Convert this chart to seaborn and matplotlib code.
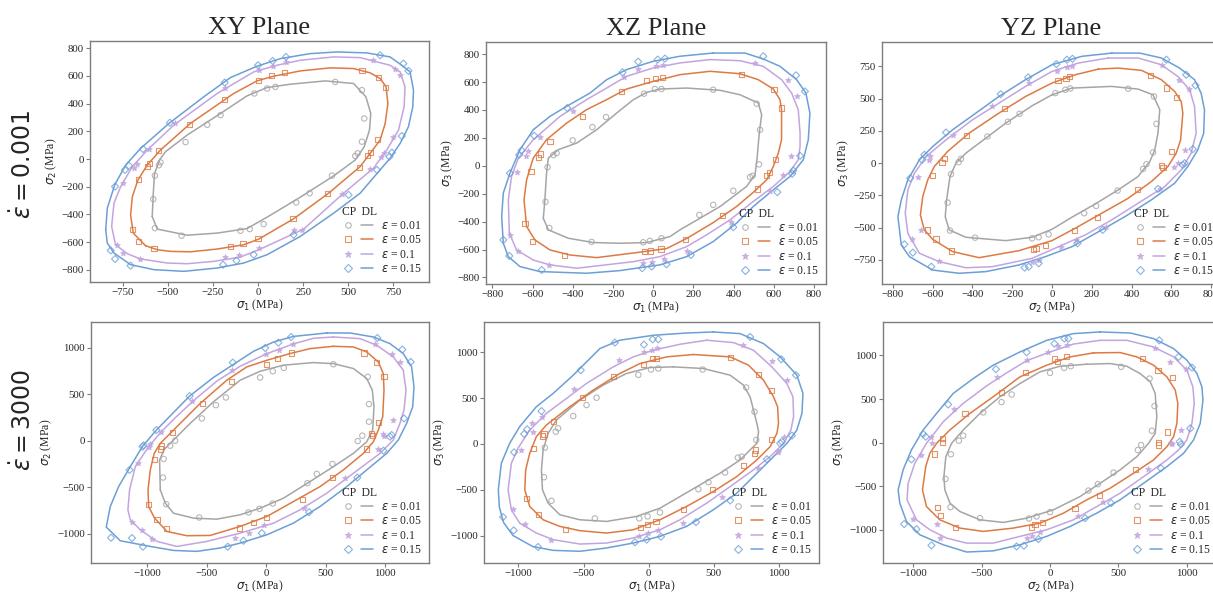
import numpy as np
import pandas as pd
import matplotlib
matplotlib.use("Agg")
import matplotlib.pyplot as plt
import seaborn as sns
from matplotlib.lines import Line2D
from matplotlib.legend_handler import HandlerTuple
from matplotlib.ticker import MultipleLocator

# ---------------- data (MPa) ----------------
STRAIN_LABELS = [r"$\varepsilon$ = 0.01", r"$\varepsilon$ = 0.05", r"$\varepsilon$ = 0.1", r"$\varepsilon$ = 0.15"]
COL_TITLES = ["XY Plane", "XZ Plane", "YZ Plane"]
ROW_LABELS = [r"$\dot{\varepsilon} = 0.001$", r"$\dot{\varepsilon} = 3000$"]
X_LABELS = [r"$\sigma_1$ (MPa)", r"$\sigma_1$ (MPa)", r"$\sigma_2$ (MPa)"]
Y_LABELS = [r"$\sigma_2$ (MPa)", r"$\sigma_3$ (MPa)", r"$\sigma_3$ (MPa)"]

# ---- XY plane, strain rate 0.001 ----
XY_LO_CP_e001 = [(-587,-415),(-581,-247),(-574,-103),(-544,-2),(-513,53),(-393,173),(-208,329),(-61,456),(50,516),(179,540),(373,564),(530,545),(598,449),(625,329),(618,209),(589,89),(539,-7),(419,-122),(234,-276),(50,-420),(-61,-502),(-227,-535),(-393,-550),(-559,-506)]
XY_LO_DL_e001 = [(428,557),(576,497),(589,293),(576,125),(552,41),(539,22),(410,-120),(286,-247),(212,-314),(31,-470),(-46,-506),(-98,-518),(-424,-554),(-572,-499),(-581,-290),(-572,-120),(-541,-24),(-550,-45),(-402,122),(-282,247),(-208,317),(-20,473),(50,509),(96,521)]
XY_LO_CP_e005 = [(-624,-626),(-559,-655),(-485,-667),(-375,-670),(-227,-650),(-79,-619),(4,-578),(197,-432),(391,-247),(566,-55),(622,41),(677,137),(705,257),(720,401),(710,521),(677,581),(622,622),(530,653),(400,658),(234,636),(87,598),(-6,564),(-135,473),(-375,257),(-541,65),(-614,-43),(-666,-151),(-697,-271),(-707,-403),(-692,-535)]
XY_LO_DL_e005 = [(576,641),(668,588),(705,514),(664,142),(625,48),(607,24),(561,-62),(387,-250),(194,-432),(0,-574),(-83,-610),(-153,-634),(-577,-646),(-661,-598),(-697,-511),(-661,-146),(-614,-55),(-600,-31),(-550,60),(-380,250),(-186,432),(4,569),(74,602),(148,624)]
XY_LO_CP_e010 = [(-651,-722),(-504,-751),(-393,-756),(-245,-739),(-98,-708),(13,-650),(253,-506),(474,-247),(640,-67),(714,65),(779,209),(810,377),(815,521),(788,629),(732,677),(566,732),(419,737),(234,713),(105,677),(-24,629),(-227,473),(-467,245),(-614,65),(-697,-55),(-762,-199),(-799,-319),(-812,-487),(-790,-619),(-725,-684)]
XY_LO_DL_e010 = [(640,713),(760,653),(788,605),(751,161),(696,46),(683,17),(622,-74),(463,-252),(244,-511),(197,-511),(4,-643),(-107,-691),(-181,-710),(-655,-722),(-747,-679),(-780,-624),(-747,-170),(-688,-67),(-670,-36),(-607,72),(-458,257),(-181,516),(4,641),(83,672),(157,701)]
XY_LO_CP_e015 = [(-845,-511),(-836,-355),(-795,-187),(-734,-43),(-651,77),(-494,257),(-301,449),(-153,588),(-6,670),(124,725),(290,761),(437,773),(603,766),(732,737),(797,677),(843,629),(862,497),(858,377),(834,233),(788,113),(732,5),(566,-247),(419,-391),(234,-559),(50,-691),(-79,-751),(-227,-787),(-411,-811),(-577,-799),(-707,-763),(-799,-679),(-836,-607)]
XY_LO_DL_e015 = [(677,749),(806,689),(834,636),(797,166),(742,46),(729,17),(659,-79),(502,-259),(197,-547),(-24,-691),(-120,-734),(-194,-763),(-707,-770),(-793,-722),(-817,-660),(-793,-199),(-738,-79),(-716,-48),(-638,72),(-489,262),(-185,552),(0,677),(81,708),(155,737)]

# ---- XZ plane, strain rate 0.001 ----
XZ_LO_CP_e001 = [(-547,-376),(-522,-459),(-423,-519),(-298,-550),(-166,-555),(-33,-550),(83,-507),(133,-459),(332,-292),(464,-148),(506,-65),(517,67),(527,234),(539,366),(522,450),(431,509),(332,541),(166,557),(33,550),(-33,526),(-99,474),(-182,378),(-282,258),(-381,163),(-473,115),(-522,55),(-531,-53),(-539,-244)]
XZ_LO_DL_e001 = [(514,445),(531,258),(526,10),(494,-72),(481,-81),(398,-179),(298,-280),(229,-352),(41,-519),(-17,-538),(-50,-548),(-307,-545),(-517,-445),(-536,-258),(-526,-10),(-497,77),(-481,91),(-401,182),(-303,277),(-235,349),(-46,517),(8,550),(41,550),(298,545)]
XZ_LO_CP_e005 = [(431,660),(522,617),(597,550),(630,474),(638,402),(638,187),(622,91),(597,-5),(564,-100),(497,-191),(414,-292),(298,-407),(166,-521),(66,-593),(-83,-622),(-282,-658),(-415,-639),(-514,-603),(-589,-531),(-630,-435),(-643,-244),(-630,-100),(-597,55),(-531,187),(-431,306),(-332,402),(-232,474),(-133,550),(0,605),(133,653),(282,677)]
XZ_LO_DL_e005 = [(439,653),(600,545),(638,414),(608,43),(577,-48),(564,-72),(517,-167),(345,-356),(162,-526),(38,-596),(-12,-610),(-45,-615),(-443,-643),(-602,-543),(-638,-411),(-608,-41),(-559,84),(-572,62),(-514,175),(-353,352),(-159,533),(-33,610),(12,627),(45,634)]
XZ_LO_CP_e010 = [(282,761),(431,753),(547,713),(638,617),(688,521),(721,402),(730,234),(730,139),(721,43),(680,-41),(597,-148),(497,-256),(381,-388),(265,-495),(166,-579),(33,-651),(-99,-687),(-381,-734),(-514,-710),(-597,-675),(-680,-603),(-716,-483),(-721,-244),(-705,-77),(-671,55),(-597,187),(-464,354),(-332,474),(-232,557),(-133,641),(0,701),(133,737)]
XZ_LO_DL_e010 = [(506,737),(668,617),(713,498),(685,67),(647,-65),(580,-184),(385,-404),(166,-608),(55,-665),(-5,-687),(-53,-694),(-517,-710),(-671,-608),(-713,-495),(-676,-48),(-633,67),(-622,103),(-564,203),(-401,395),(-146,634),(-75,694),(13,713),(50,720)]
XZ_LO_CP_e015 = [(298,808),(456,808),(547,765),(630,713),(713,617),(759,521),(779,378),(771,187),(746,43),(680,-77),(597,-172),(497,-292),(414,-411),(298,-543),(166,-651),(33,-710),(-166,-751),(-332,-770),(-564,-758),(-663,-722),(-721,-651),(-746,-555),(-754,-364),(-746,-196),(-713,-53),(-663,115),(-597,258),(-514,354),(-431,426),(-315,521),(-232,617),(-133,689),(0,749),(133,785)]
XZ_LO_DL_e015 = [(547,785),(710,648),(754,533),(730,72),(696,-34),(691,-57),(617,-189),(398,-440),(187,-639),(66,-706),(-8,-722),(-55,-734),(-555,-746),(-716,-646),(-746,-531),(-713,-53),(-667,79),(-655,110),(-592,215),(-428,414),(-153,670),(-75,746),(22,761),(58,768)]

# ---- YZ plane, strain rate 0.001 ----
YZ_LO_CP_e001 = [(0,530),(100,582),(300,595),(433,574),(508,530),(542,414),(533,233),(517,103),(492,13),(433,-103),(333,-207),(217,-316),(100,-419),(0,-512),(-100,-574),(-233,-600),(-433,-574),(-517,-517),(-537,-414),(-530,-284),(-513,-103),(-483,0),(-433,78),(-333,194),(-233,310),(-100,445)]
YZ_LO_DL_e001 = [(383,577),(513,517),(525,305),(508,83),(475,-8),(458,-44),(330,-212),(222,-331),(162,-388),(-17,-551),(-67,-574),(-100,-582),(-387,-577),(-513,-522),(-525,-305),(-508,-85),(-470,8),(-458,34),(-325,207),(-222,321),(-163,383),(17,543),(67,569),(92,579)]
YZ_LO_CP_e005 = [(233,729),(333,737),(450,719),(550,647),(617,556),(650,478),(658,388),(647,181),(625,78),(583,-26),(500,-142),(383,-272),(250,-388),(117,-504),(0,-600),(-167,-678),(-367,-732),(-500,-685),(-600,-590),(-642,-517),(-662,-401),(-650,-259),(-625,-129),(-592,-26),(-525,91),(-417,233),(-267,388),(-133,517),(0,621),(117,685)]
YZ_LO_DL_e005 = [(497,678),(575,582),(625,512),(600,91),(558,-34),(550,-16),(430,-202),(230,-419),(112,-522),(-33,-639),(-80,-659),(-95,-667),(-505,-680),(-583,-587),(-628,-517),(-600,-96),(-553,8),(-542,39),(-430,212),(-237,424),(30,639),(70,659),(87,672)]
YZ_LO_CP_e010 = [(283,815),(433,815),(550,763),(633,672),(692,569),(717,440),(725,233),(700,78),(650,-52),(567,-181),(433,-310),(300,-440),(167,-556),(33,-647),(-100,-737),(-300,-802),(-433,-810),(-567,-763),(-667,-698),(-725,-543),(-738,-388),(-725,-207),(-692,-78),(-633,52),(-533,181),(-400,336),(-267,465),(-133,595),(0,711),(133,776)]
YZ_LO_DL_e010 = [(555,758),(638,647),(688,574),(667,103),(613,-26),(633,0),(545,-202),(270,-497),(122,-595),(47,-652),(-67,-750),(-100,-763),(-567,-758),(-703,-590),(-658,-517),(-675,-109),(-617,21),(-612,52),(-500,222),(-300,440),(-117,621),(25,716),(75,742),(103,755)]
YZ_LO_CP_e015 = [(300,853),(442,853),(550,815),(642,737),(717,647),(750,543),(767,414),(763,233),(733,103),(683,-26),(617,-155),(500,-284),(367,-414),(250,-517),(100,-647),(-33,-724),(-167,-789),(-333,-840),(-467,-853),(-600,-828),(-717,-724),(-758,-634),(-775,-414),(-758,-284),(-725,-129),(-667,26),(-600,129),(-500,259),(-383,388),(-267,517),(-133,647),(0,763),(150,828)]
YZ_LO_DL_e015 = [(575,802),(675,685),(722,603),(708,109),(667,0),(658,-13),(533,-199),(255,-517),(128,-621),(-67,-776),(-117,-802),(-138,-809),(-607,-802),(-700,-693),(-742,-628),(-713,-116),(-653,26),(-642,65),(-533,238),(-258,535),(-120,665),(22,768),(75,802),(103,809)]

# ---- XY plane, strain rate 3000 ----
XY_HI_CP_e001 = [(-889,-529),(-895,-207),(-856,-93),(-778,7),(-638,186),(-442,418),(-218,650),(-50,746),(145,811),(397,839),(565,828),(733,775),(845,668),(892,543),(906,364),(895,114),(845,-11),(733,-136),(565,-279),(369,-439),(145,-618),(-50,-725),(-218,-796),(-414,-843),(-610,-832),(-778,-779),(-847,-671)]
XY_HI_DL_e001 = [(565,821),(853,686),(864,393),(864,204),(808,54),(769,-4),(557,-250),(425,-357),(347,-457),(56,-675),(-56,-732),(-148,-771),(-562,-825),(-839,-682),(-867,-396),(-861,-196),(-806,-54),(-764,0),(-540,239),(-422,382),(-338,464),(-50,679),(56,746),(148,782)]
XY_HI_CP_e005 = [(565,1014),(733,1007),(845,953),(942,846),(984,721),(990,543),(979,257),(942,114),(901,-11),(817,-136),(649,-314),(453,-493),(229,-654),(6,-814),(-218,-921),(-470,-1018),(-666,-1021),(-833,-975),(-937,-832),(-987,-707),(-992,-529),(-973,-314),(-940,-136),(-889,-29),(-778,114),(-554,400),(-330,650),(-162,793),(6,864),(201,936),(369,989)]
XY_HI_DL_e005 = [(822,943),(929,839),(990,686),(942,193),(895,54),(887,79),(845,-89),(557,-396),(308,-629),(6,-821),(-106,-875),(-224,-939),(-839,-943),(-917,-843),(-987,-689),(-940,-200),(-889,-89),(-881,-57),(-786,89),(-534,400),(-294,636),(6,821),(95,886),(215,943)]
XY_HI_CP_e010 = [(565,1114),(789,1096),(929,1025),(1068,900),(1152,757),(1175,543),(1158,329),(1124,186),(1068,7),(957,-136),(733,-350),(509,-564),(285,-743),(62,-886),(-218,-993),(-498,-1082),(-750,-1136),(-917,-1082),(-1057,-957),(-1141,-850),(-1161,-743),(-1147,-529),(-1099,-279),(-987,-64),(-881,96),(-760,250),(-610,430),(-414,640),(-218,800),(6,935),(229,1040),(397,1100)]
XY_HI_DL_e010 = [(915,1043),(1060,936),(1124,846),(1068,221),(990,54),(984,71),(937,-93),(663,-404),(322,-725),(-14,-911),(-148,-993),(-260,-1046),(-959,-1057),(-1043,-957),(-1127,-875),(-1074,-243),(-987,-64),(-973,-39),(-881,96),(-624,421),(-288,757),(-3,928),(112,979),(224,1043)]
XY_HI_CP_e015 = [(509,1157),(705,1157),(901,1114),(1040,1043),(1152,936),(1222,793),(1242,579),(1231,364),(1180,186),(1110,7),(1013,-136),(845,-314),(677,-493),(453,-707),(229,-886),(6,-1011),(-218,-1100),(-386,-1153),(-582,-1189),(-778,-1179),(-973,-1136),(-1225,-1075),(-1343,-928),(-1309,-707),(-1239,-493),(-1141,-279),(-1040,-64),(-922,114),(-780,300),(-643,479),(-442,680),(-274,820),(-106,960),(62,1060),(229,1120)]
XY_HI_DL_e015 = [(934,1103),(1144,979),(1214,846),(1158,239),(1054,61),(1040,43),(985,-107),(766,-396),(361,-768),(-36,-993),(-190,-1075),(-322,-1139),(-1035,-1139),(-1127,-1046),(-1303,-1043),(-1147,-314),(-1038,-64),(-1029,-50),(-922,114),(-643,479),(-280,839),(-8,996),(103,1053),(210,1114)]

# ---- XZ plane, strain rate 3000 ----
XZ_HI_CP_e001 = [(190,842),(420,824),(626,751),(728,643),(779,515),(805,370),(831,225),(844,134),(831,7),(779,-65),(703,-174),(549,-319),(395,-446),(241,-574),(87,-701),(-92,-791),(-323,-846),(-528,-828),(-682,-773),(-772,-646),(-815,-501),(-823,-283),(-810,-65),(-772,116),(-708,261),(-528,479),(-349,643),(-169,770),(10,835)]
XZ_HI_DL_e001 = [(415,813),(749,617),(813,352),(826,44),(715,-138),(685,-149),(587,-312),(459,-417),(382,-494),(87,-748),(-8,-791),(-72,-813),(-413,-813),(-746,-621),(-803,-363),(-797,-40),(-713,134),(-695,171),(-579,305),(-477,425),(-400,505),(-79,755),(18,813),(74,824)]
XZ_HI_CP_e005 = [(344,977),(626,951),(767,860),(882,697),(959,515),(990,407),(997,225),(985,116),(933,-29),(831,-174),(677,-356),(497,-519),(292,-682),(87,-828),(-118,-937),(-323,-973),(-528,-947),(-682,-900),(-810,-828),(-913,-682),(-951,-501),(-944,-283),(-913,-102),(-862,80),(-785,207),(-605,407),(-426,588),(-221,770),(-67,878),(138,951)]
XZ_HI_DL_e005 = [(631,940),(844,759),(946,588),(941,51),(813,-102),(823,-65),(728,-236),(492,-501),(267,-719),(56,-846),(-8,-882),(-62,-908),(-636,-937),(-844,-773),(-938,-592),(-887,-47),(-815,87),(-803,109),(-733,243),(-510,508),(-267,741),(-41,871),(28,937),(62,937)]
XZ_HI_CP_e010 = [(446,1133),(651,1107),(805,1024),(946,842),(1061,661),(1108,515),(1113,298),(1092,152),(1036,7),(933,-138),(805,-283),(626,-465),(446,-646),(241,-828),(87,-937),(-118,-1027),(-323,-1082),(-528,-1093),(-733,-1045),(-862,-973),(-990,-864),(-1054,-719),(-1079,-501),(-1054,-211),(-1003,-47),(-913,152),(-785,334),(-631,497),(-477,661),(-272,842),(-118,951),(36,1024),(241,1089)]
XZ_HI_DL_e010 = [(728,1078),(946,904),(1061,704),(1036,80),(997,-73),(992,-91),(836,-265),(562,-581),(267,-864),(74,-944),(-8,-973),(-72,-1002),(-751,-1053),(-951,-875),(-1041,-711),(-977,-65),(-887,134),(-892,232),(-820,290),(-574,595),(-226,922),(-36,1002),(23,1031),(67,1053)]
XZ_HI_CP_e015 = [(497,1223),(703,1205),(882,1096),(1010,951),(1138,751),(1185,552),(1177,334),(1138,152),(1062,7),(959,-138),(831,-319),(677,-537),(497,-719),(292,-900),(87,-1009),(-118,-1082),(-323,-1136),(-528,-1172),(-733,-1162),(-890,-1120),(-1041,-1000),(-1113,-860),(-1146,-690),(-1154,-501),(-1131,-211),(-1067,7),(-990,189),(-862,407),(-733,552),(-579,751),(-374,1042),(-221,1133),(36,1187),(292,1212)]
XZ_HI_DL_e015 = [(779,1169),(1018,926),(1131,751),(1100,91),(1023,25),(1010,7),(908,-167),(626,-617),(364,-853),(95,-1013),(-15,-1045),(-105,-1074),(-849,-1125),(-1036,-944),(-1118,-799),(-1033,-91),(-956,109),(-933,160),(-823,359),(-521,806),(-259,1107),(-36,1085),(31,1143),(74,1143)]

# ---- YZ plane, strain rate 3000 ----
YZ_HI_CP_e001 = [(269,899),(440,907),(562,876),(660,792),(734,697),(770,564),(782,297),(770,107),(721,-8),(636,-160),(513,-312),(367,-465),(220,-617),(24,-770),(-171,-865),(-342,-914),(-513,-884),(-660,-789),(-733,-693),(-770,-541),(-777,-389),(-763,-160),(-721,-8),(-636,145),(-513,335),(-367,526),(-220,678),(-73,812),(73,876)]
YZ_HI_DL_e001 = [(521,869),(729,735),(765,419),(746,137),(667,-27),(643,-84),(465,-343),(350,-476),(281,-549),(0,-796),(-98,-846),(-154,-869),(-513,-865),(-729,-739),(-765,-415),(-726,-133),(-667,23),(-636,80),(-489,347),(-355,465),(-281,552),(0,800),(103,857),(152,876)]
YZ_HI_CP_e005 = [(318,1029),(513,1033),(636,983),(758,888),(856,754),(917,602),(936,450),(929,221),(905,69),(856,-46),(758,-198),(611,-351),(440,-522),(269,-655),(98,-808),(-73,-922),(-269,-979),(-489,-1017),(-660,-979),(-807,-884),(-905,-731),(-934,-541),(-910,-274),(-880,-122),(-831,-8),(-734,145),(-587,335),(-416,526),(-220,754),(-24,888),(147,983)]
YZ_HI_DL_e005 = [(680,964),(790,831),(897,743),(861,122),(795,0),(795,-27),(623,-312),(362,-606),(183,-758),(-56,-911),(-110,-934),(-134,-968),(-694,-972),(-802,-834),(-826,-747),(-843,-130),(-787,4),(-790,46),(-623,335),(-355,572),(-178,804),(32,964),(54,926),(122,991)]
YZ_HI_CP_e010 = [(367,1173),(562,1173),(758,1097),(905,983),(1002,831),(1046,640),(1056,450),(1039,221),(1002,31),(941,-84),(856,-198),(685,-389),(513,-579),(342,-732),(171,-884),(-24,-998),(-220,-1074),(-416,-1151),(-611,-1151),(-758,-1093),(-880,-998),(-978,-884),(-1047,-655),(-1039,-465),(-990,-236),(-905,-8),(-782,240),(-636,450),(-465,650),(-318,800),(-171,940),(0,1040),(171,1130)]
YZ_HI_DL_e010 = [(770,1090),(880,926),(995,842),(958,145),(885,0),(892,-15),(721,-305),(386,-682),(208,-846),(-73,-1025),(-134,-1074),(-171,-1093),(-807,-1093),(-1002,-876),(-831,-930),(-946,-141),(-868,69),(-863,-8),(-704,381),(-391,747),(-171,949),(-12,1036),(56,1105),(127,1116)]
YZ_HI_CP_e015 = [(367,1269),(587,1257),(758,1193),(905,1078),(1002,945),(1076,792),(1112,640),(1120,488),(1100,221),(1051,31),(978,-122),(856,-274),(685,-465),(513,-655),(342,-808),(147,-960),(-24,-1074),(-220,-1170),(-416,-1240),(-611,-1253),(-782,-1170),(-954,-1055),(-1051,-903),(-1100,-693),(-1112,-541),(-1076,-312),(-1015,-84),(-929,145),(-831,335),(-709,564),(-562,735),(-416,888),(-220,1040),(-24,1173),(171,1250)]
YZ_HI_DL_e015 = [(800,1173),(941,983),(1039,861),(1027,164),(958,-19),(949,11),(812,-293),(447,-693),(257,-865),(-85,-1105),(-191,-1181),(-245,-1189),(-868,-1177),(-1068,-933),(-978,-991),(-1015,-191),(-929,99),(-910,69),(-746,438),(-396,842),(-171,1036),(32,1135),(105,1193),(134,1193)]

PANEL_DATA = [
    [(XY_LO_CP_e001, XY_LO_DL_e001), (XY_LO_CP_e005, XY_LO_DL_e005), (XY_LO_CP_e010, XY_LO_DL_e010), (XY_LO_CP_e015, XY_LO_DL_e015)],
    [(XZ_LO_CP_e001, XZ_LO_DL_e001), (XZ_LO_CP_e005, XZ_LO_DL_e005), (XZ_LO_CP_e010, XZ_LO_DL_e010), (XZ_LO_CP_e015, XZ_LO_DL_e015)],
    [(YZ_LO_CP_e001, YZ_LO_DL_e001), (YZ_LO_CP_e005, YZ_LO_DL_e005), (YZ_LO_CP_e010, YZ_LO_DL_e010), (YZ_LO_CP_e015, YZ_LO_DL_e015)],
    [(XY_HI_CP_e001, XY_HI_DL_e001), (XY_HI_CP_e005, XY_HI_DL_e005), (XY_HI_CP_e010, XY_HI_DL_e010), (XY_HI_CP_e015, XY_HI_DL_e015)],
    [(XZ_HI_CP_e001, XZ_HI_DL_e001), (XZ_HI_CP_e005, XZ_HI_DL_e005), (XZ_HI_CP_e010, XZ_HI_DL_e010), (XZ_HI_CP_e015, XZ_HI_DL_e015)],
    [(YZ_HI_CP_e001, YZ_HI_DL_e001), (YZ_HI_CP_e005, YZ_HI_DL_e005), (YZ_HI_CP_e010, YZ_HI_DL_e010), (YZ_HI_CP_e015, YZ_HI_DL_e015)],
]

# ---------------- style ----------------
COLORS = ["#a5a5a5", "#dd7a44", "#c2a5df", "#6c9fd6"]
MARKERS = ["o", "s", "*", "D"]
MSIZE = [15, 14, 16, 13]
FILLED = [False, False, True, False]

LIMS = [((-932, 948), (-888, 852)), ((-832, 859), (-847, 887)), ((-855, 850), (-936, 939)),
        ((-1471, 1368), (-1314, 1275)), ((-1264, 1308), (-1300, 1332)), ((-1223, 1230), (-1379, 1383))]
TICKS = [(250, 200), (200, 200), (200, 250), (500, 500), (500, 500), (500, 500)]

W, H = 1213, 592
RECTS_PX = [(90, 41, 429, 282), (486, 42, 826, 284), (882, 42, 1221, 284),
            (91, 322, 429, 563), (484, 322, 819, 563), (883, 322, 1218, 563)]

sns.set_theme(style="ticks")
plt.rcParams["font.family"] = ["Liberation Serif", "DejaVu Serif"]
plt.rcParams["mathtext.fontset"] = "dejavusans"

fig = plt.figure(figsize=(W / 100, H / 100), dpi=100)
SPINE = "#7d7d7d"

for p in range(6):
    l, t, r, b = RECTS_PX[p]
    ax = fig.add_axes([l / W, 1 - b / H, (r - l) / W, (b - t) / H])
    for i, (cp, dl) in enumerate(PANEL_DATA[p]):
        cpa = np.array(cp + cp[:1], dtype=float)
        df_cp = pd.DataFrame({"s_a": cpa[:, 0], "s_b": cpa[:, 1]})
        sns.lineplot(data=df_cp, x="s_a", y="s_b", sort=False, estimator=None,
                     color=COLORS[i], lw=1.1, ax=ax, zorder=2)
        dla = np.array(dl, dtype=float)
        df_dl = pd.DataFrame({"s_a": dla[:, 0], "s_b": dla[:, 1]})
        sns.scatterplot(data=df_dl, x="s_a", y="s_b", marker=MARKERS[i], s=MSIZE[i],
                        facecolor=(COLORS[i] if FILLED[i] else "none"), edgecolor=COLORS[i],
                        linewidth=0.8, alpha=0.8, ax=ax, zorder=3)
    ax.set_xlim(*LIMS[p][0])
    ax.set_ylim(*LIMS[p][1])
    ax.xaxis.set_major_locator(MultipleLocator(TICKS[p][0]))
    ax.yaxis.set_major_locator(MultipleLocator(TICKS[p][1]))
    ax.set_xlabel(X_LABELS[p % 3], fontsize=8.5, labelpad=0)
    ax.set_ylabel(Y_LABELS[p % 3], fontsize=8.5, labelpad=2)
    ax.tick_params(axis="both", labelsize=7.8, length=3, width=0.8, color=SPINE, pad=1.5)
    for sp in ax.spines.values():
        sp.set_visible(True)
        sp.set_color(SPINE)
        sp.set_linewidth(1.0)
    if p < 3:
        ax.set_title(COL_TITLES[p], fontsize=19, pad=5)

    handles = []
    for i in range(4):
        mh = Line2D([], [], ls="none", marker=MARKERS[i], ms=(5 if i == 2 else 4),
                    mfc=(COLORS[i] if FILLED[i] else "none"), mec=COLORS[i], mew=0.8, alpha=0.8)
        lh = Line2D([], [], color=COLORS[i], lw=1.1)
        handles.append((mh, lh))
    ax.legend(handles, STRAIN_LABELS, handler_map={tuple: HandlerTuple(ndivide=None, pad=0.6)},
              loc="lower right", frameon=False, fontsize=8.4, title="CP  DL", title_fontsize=8.4,
              alignment="left", handlelength=2.7, handletextpad=0.7, labelspacing=0.2,
              borderaxespad=0.3, borderpad=0.3)

fig.text(23 / W, 1 - 164 / H, ROW_LABELS[0], rotation=90, ha="center", va="center",
         fontsize=17, family="DejaVu Sans", math_fontfamily="dejavusans")
fig.text(23 / W, 1 - 420 / H, ROW_LABELS[1], rotation=90, ha="center", va="center",
         fontsize=17, family="DejaVu Sans", math_fontfamily="dejavusans")

fig.savefig("out.png", dpi=100)
